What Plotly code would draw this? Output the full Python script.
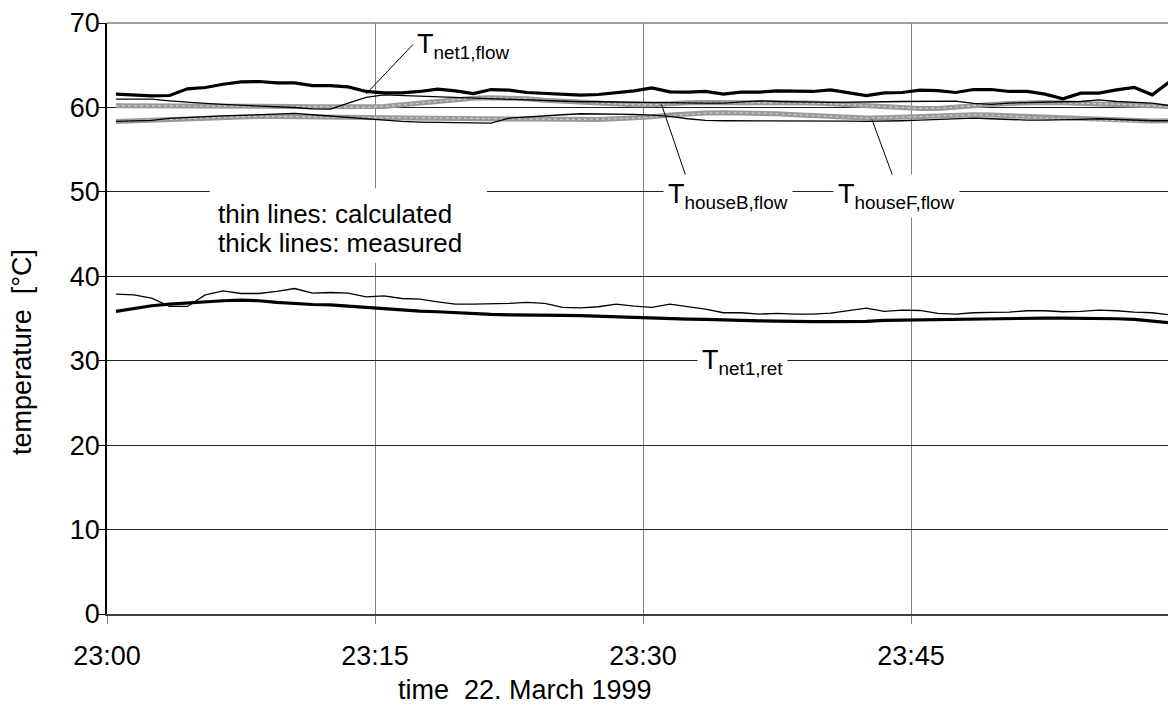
import plotly.graph_objects as go

FONT = "Arial, Liberation Sans, sans-serif"

# ---- data (one value per minute, 23:00 .. 23:59) ----
minutes = [i + 0.5 for i in range(60)]

net1_flow_meas = [61.57, 61.45, 61.37, 61.41, 62.20, 62.36, 62.75, 63.03, 63.07, 62.91,
                  62.91, 62.59, 62.59, 62.44, 61.89, 61.73, 61.73, 61.89, 62.16, 61.96,
                  61.65, 62.12, 62.04, 61.77, 61.65, 61.53, 61.45, 61.53, 61.73, 61.96,
                  62.32, 61.85, 61.81, 61.89, 61.57, 61.81, 61.81, 61.96, 61.92, 61.89,
                  62.08, 61.77, 61.41, 61.73, 61.77, 62.04, 62.00, 61.77, 62.12, 62.12,
                  61.89, 61.89, 61.57, 61.02, 61.69, 61.69, 62.08, 62.36, 61.49, 63.07]

net1_flow_calc = [60.98, 60.98, 60.98, 60.78, 60.59, 60.47, 60.35, 60.27, 60.19, 60.11,
                  59.99, 59.84, 59.80, 60.51, 61.18, 61.49, 61.41, 61.41, 61.33, 61.26,
                  61.18, 61.02, 60.94, 60.86, 60.78, 60.70, 60.67, 60.67, 60.63, 60.63,
                  60.59, 60.59, 60.55, 60.51, 60.51, 60.63, 60.78, 60.70, 60.63, 60.63,
                  60.59, 60.59, 60.63, 60.67, 60.70, 60.70, 60.70, 60.74, 60.47, 60.35,
                  60.51, 60.59, 60.59, 60.67, 60.70, 60.90, 60.70, 60.63, 60.51, 60.19]

houseB_flow_meas = [60.19, 60.19, 60.23, 60.23, 60.19, 60.19, 60.19, 60.15, 60.15, 60.11,
                    60.11, 60.07, 60.07, 60.07, 59.99, 60.11, 60.31, 60.51, 60.70, 60.90,
                    61.10, 61.14, 61.10, 61.02, 60.86, 60.74, 60.63, 60.51, 60.39, 60.31,
                    60.31, 60.47, 60.55, 60.59, 60.59, 60.55, 60.59, 60.59, 60.55, 60.51,
                    60.43, 60.31, 60.19, 60.07, 59.96, 59.88, 59.88, 60.07, 60.23, 60.35,
                    60.47, 60.55, 60.59, 60.55, 60.51, 60.47, 60.39, 60.27, 60.19, 60.11]

houseF_flow_meas = [58.34, 58.42, 58.54, 58.66, 58.74, 58.82, 58.86, 58.90, 58.93, 58.93,
                    58.93, 58.90, 58.86, 58.82, 58.82, 58.78, 58.74, 58.74, 58.74, 58.74,
                    58.70, 58.66, 58.62, 58.62, 58.58, 58.58, 58.58, 58.58, 58.66, 58.74,
                    58.90, 59.09, 59.25, 59.33, 59.37, 59.37, 59.33, 59.25, 59.13, 59.01,
                    58.90, 58.78, 58.74, 58.78, 58.86, 58.97, 59.01, 59.09, 59.13, 59.09,
                    59.01, 58.86, 58.74, 58.66, 58.58, 58.50, 58.42, 58.38, 58.38, 58.42]

houseF_flow_calc = [58.34, 58.38, 58.46, 58.70, 58.82, 58.93, 59.01, 59.05, 59.13, 59.25,
                    59.29, 59.13, 58.97, 58.82, 58.62, 58.46, 58.34, 58.27, 58.23, 58.19,
                    58.15, 58.15, 58.74, 58.90, 59.01, 59.13, 59.25, 59.25, 59.21, 59.17,
                    59.09, 58.93, 58.66, 58.46, 58.42, 58.42, 58.46, 58.46, 58.42, 58.42,
                    58.42, 58.38, 58.34, 58.34, 58.42, 58.50, 58.58, 58.70, 58.74, 58.66,
                    58.54, 58.50, 58.50, 58.50, 58.58, 58.66, 58.58, 58.46, 58.42, 58.42]

net1_ret_calc = [37.88, 37.80, 37.41, 36.43, 36.43, 37.80, 38.28, 37.96, 37.96, 38.20,
                 38.55, 38.00, 38.08, 38.00, 37.57, 37.69, 37.37, 37.29, 36.98, 36.70,
                 36.70, 36.70, 36.78, 36.90, 36.78, 36.31, 36.27, 36.39, 36.70, 36.47,
                 36.31, 36.70, 36.43, 36.11, 35.68, 35.68, 35.52, 35.60, 35.52, 35.52,
                 35.64, 35.92, 36.23, 35.84, 35.99, 35.95, 35.60, 35.52, 35.68, 35.72,
                 35.76, 35.92, 35.92, 35.80, 35.84, 35.99, 35.92, 35.76, 35.68, 35.44]

net1_ret_meas = [35.84, 36.19, 36.51, 36.70, 36.86, 36.98, 37.10, 37.17, 37.10, 36.90,
                 36.74, 36.66, 36.62, 36.47, 36.27, 36.11, 36.03, 35.88, 35.80, 35.68,
                 35.56, 35.48, 35.44, 35.44, 35.40, 35.36, 35.33, 35.25, 35.21, 35.13,
                 35.05, 35.01, 34.93, 34.89, 34.81, 34.77, 34.73, 34.70, 34.62, 34.62,
                 34.62, 34.62, 34.66, 34.77, 34.81, 34.85, 34.89, 34.93, 34.97, 35.01,
                 35.01, 35.05, 35.05, 35.05, 35.05, 35.05, 34.97, 34.89, 34.73, 34.50]

tick_vals = [0, 15, 30, 45]
tick_text = ["23:00", "23:15", "23:30", "23:45"]

# ---- figure ----
fig = go.Figure()

GRAY = "#999999"
for ys in (houseB_flow_meas, houseF_flow_meas):
    fig.add_trace(go.Scatter(x=minutes, y=ys, mode="lines",
                             line=dict(color=GRAY, width=5), hoverinfo="skip"))
    fig.add_trace(go.Scatter(x=minutes, y=ys, mode="lines",
                             line=dict(color="#cfcfcf", width=1.2, dash="dot"), hoverinfo="skip"))

for ys in (houseF_flow_calc, net1_flow_calc, net1_ret_calc):
    fig.add_trace(go.Scatter(x=minutes, y=ys, mode="lines",
                             line=dict(color="black", width=1.3), hoverinfo="skip"))

for ys in (net1_flow_meas, net1_ret_meas):
    fig.add_trace(go.Scatter(x=minutes, y=ys, mode="lines",
                             line=dict(color="black", width=3.2), hoverinfo="skip"))

# white box behind the explanatory note (hides the grid line there)
fig.add_shape(type="rect", xref="x", yref="y", x0=5.75, x1=21.27, y0=41.6, y1=50.4,
              fillcolor="white", line=dict(width=0), layer="between")

# leader lines
leaders = [((14.5, 61.6), (17.12, 67.44)),
           ((31.03, 60.39), (32.6, 50.6)),
           ((42.81, 58.58), (44.2, 50.6))]
for (x0, y0), (x1, y1) in leaders:
    fig.add_shape(type="line", xref="x", yref="y", x0=x0, y0=y0, x1=x1, y1=y1,
                  line=dict(color="black", width=1))

# top border
fig.add_shape(type="line", xref="paper", yref="paper", x0=0, x1=1, y0=1, y1=1,
              line=dict(color="#808080", width=1.5), layer="above")

labels = [
    ("T<sub>net1,flow</sub>", 17.07, 67.3, None),
    ("T<sub>houseB,flow</sub>", 31.1, 49.5, "white"),
    ("T<sub>houseF,flow</sub>", 40.65, 49.5, "white"),
    ("T<sub>net1,ret</sub>", 33.0, 29.9, "white"),
]
for txt, x, y, bg in labels:
    fig.add_annotation(x=x, y=y, xref="x", yref="y", text=txt, showarrow=False,
                       xanchor="left", yanchor="middle",
                       font=dict(family=FONT, size=27, color="black"),
                       bgcolor=bg if bg else "rgba(0,0,0,0)", borderpad=4)

fig.add_annotation(x=6.1, y=47.4, xref="x", yref="y", text="thin lines: calculated",
                   showarrow=False, xanchor="left", yanchor="middle",
                   font=dict(family=FONT, size=26, color="black"))
fig.add_annotation(x=6.1, y=43.9, xref="x", yref="y", text="thick lines: measured",
                   showarrow=False, xanchor="left", yanchor="middle",
                   font=dict(family=FONT, size=26, color="black"))

# axis titles (placed like the original, not centred on the plot)
fig.add_annotation(x=0.391, y=-0.128, xref="paper", yref="paper",
                   text="time \u00a022. March 1999", showarrow=False,
                   xanchor="center", yanchor="middle",
                   font=dict(family=FONT, size=27, color="black"))
fig.add_annotation(x=-0.0795, y=0.4435, xref="paper", yref="paper",
                   text="temperature \u00a0[°C]", showarrow=False, textangle=-90,
                   xanchor="center", yanchor="middle",
                   font=dict(family=FONT, size=27, color="black"))

fig.update_layout(
    width=1168, height=701,
    margin=dict(l=99, r=0, t=13, b=95),
    paper_bgcolor="white", plot_bgcolor="white",
    showlegend=False,
    font=dict(family=FONT, size=27, color="black"),
    xaxis=dict(range=[0, 59.83], tickvals=tick_vals, ticktext=tick_text,
               showgrid=True, gridcolor="#808080", gridwidth=1,
               ticks="outside", ticklen=8, tickcolor="#808080",
               showline=True, linecolor="#404040", linewidth=1.5, zeroline=False,
               ticklabelstandoff=9, ticklabeloverflow="allow",
               tickfont=dict(family=FONT, size=27)),
    yaxis=dict(range=[0, 70], tickvals=[0, 10, 20, 30, 40, 50, 60, 70],
               ticktext=["0", "10", "20", "30", "40", "50", "60", "70"],
               showgrid=True, gridcolor="#202020", gridwidth=1,
               ticks="outside", ticklen=8, tickcolor="black",
               showline=True, linecolor="black", linewidth=1.5, zeroline=False,
               ticklabelstandoff=-8, ticklabeloverflow="allow",
               tickfont=dict(family=FONT, size=27)),
)

fig.write_html("out.html")
